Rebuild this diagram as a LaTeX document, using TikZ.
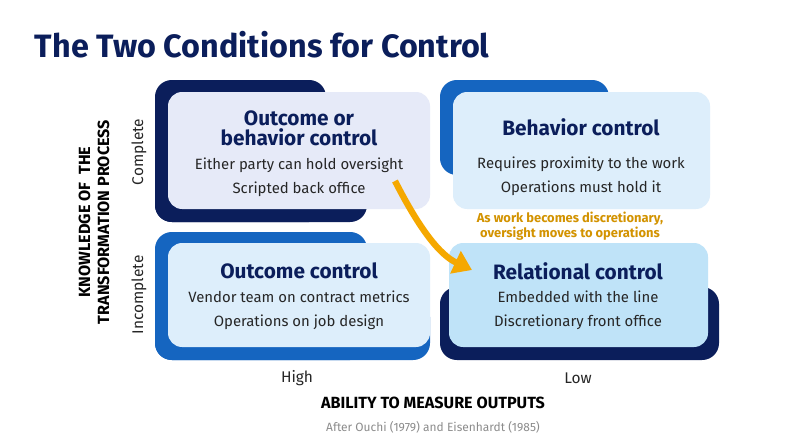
\documentclass[tikz,border=0pt]{standalone}
\usepackage{fontspec}
\setmainfont{Fira Sans}
\usetikzlibrary{arrows.meta}
\definecolor{navy}{HTML}{0B1E5B}
\definecolor{blu}{HTML}{1565C0}
\definecolor{lav}{HTML}{E6EAF8}
\definecolor{lb}{HTML}{DDEEFB}
\definecolor{lb2}{HTML}{BFE3F8}
\definecolor{orng}{HTML}{F5A800}
\definecolor{orngt}{HTML}{D39300}
\begin{document}
\begin{tikzpicture}[x=0.025cm,y=-0.025cm,
 back/.style={rounded corners=12pt},
 front/.style={rounded corners=10pt},
 ttl/.style={font=\bfseries\fontsize{14.8}{16.5}\selectfont,text=navy,align=center},
 body/.style={font=\fontsize{10.6}{12}\selectfont,text=black!85},
 ax/.style={font=\fontsize{11}{13}\selectfont,text=black!85},
 axb/.style={font=\bfseries\fontsize{11.5}{13.5}\selectfont,text=black,align=center}]
\fill[white] (0,0) rectangle (800,447);
\useasboundingbox (0,0) rectangle (800,447);
\node[anchor=west,font=\bfseries\fontsize{23}{27}\selectfont,text=navy] (title) at (30,45) {The Two Conditions for Control};
% TL
\fill[navy,back] (155,80) rectangle (326,222);
\fill[navy,back] (155,150) rectangle (367,222);
\fill[lav,front] (168,92) rectangle (430,209);
% TR
\fill[blu,back] (440,80) rectangle (609,175);
\fill[lb,front] (453,92) rectangle (710,209);
% BL
\fill[blu,back] (155,232) rectangle (367,360);
\fill[blu,back] (155,300) rectangle (430,360);
\fill[lb,front] (168,243) rectangle (430,347);
% BR
\fill[navy,back] (440,287) rectangle (719,360);
\fill[lb2,front] (449,243) rectangle (708,347);
% texts
\node[ttl] (t1) at (299,128) {Outcome or\\[-2pt]behavior control};
\node[body] (b1a) at (299,165) {Either party can hold oversight};
\node[body] (b1b) at (299,189) {Scripted back office};
\node[ttl] (t2) at (581,127) {Behavior control};
\node[body] (b2a) at (581,164) {Requires proximity to the work};
\node[body] (b2b) at (581,188) {Operations must hold it};
\node[ttl] (t3) at (299,271) {Outcome control};
\node[body] (b3a) at (299,297) {Vendor team on contract metrics};
\node[body] (b3b) at (299,322) {Operations on job design};
\node[ttl] (t4) at (578,271) {Relational control};
\node[body] (b4a) at (578,297) {Embedded with the line};
\node[body] (b4b) at (578,322) {Discretionary front office};
% arrow
\coordinate (as) at (395,181);
\coordinate (ae) at (472,270);
\draw[orng,line width=4.5pt,-{Triangle[length=13pt,width=17pt]}] (as) .. controls (420,230) and (440,255) .. (ae);
\node[font=\bfseries\fontsize{9.2}{10.5}\selectfont,text=orngt,align=center] (al) at (570,226) {As work becomes discretionary,\\oversight moves to operations};
% axes
\node[ax,rotate=90] (cmp) at (139,152) {Complete};
\node[ax,rotate=90] (inc) at (139,295) {Incomplete};
\node[axb,rotate=90] (yl) at (94,222) {KNOWLEDGE OF\ \ THE\\TRANSFORMATION PROCESS};
\node[ax] (hi) at (297,378) {High};
\node[ax] (lo) at (578,378) {Low};
\node[axb] (xl) at (433,403) {ABILITY TO MEASURE OUTPUTS};
\node[font=\fontsize{8.5}{10}\selectfont,text=black!45] (src) at (433,427) {After Ouchi (1979) and Eisenhardt (1985)};
\end{tikzpicture}
\end{document}
